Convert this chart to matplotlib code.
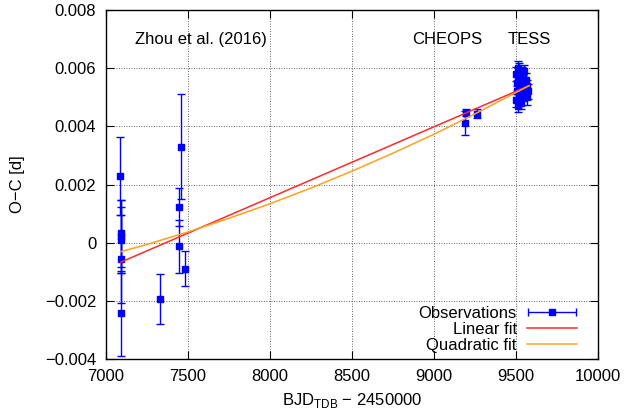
import matplotlib
matplotlib.use("Agg")
import matplotlib.pyplot as plt
from matplotlib.legend_handler import HandlerErrorbar

# transit timing residuals
zhou_x = [7088, 7092, 7090, 7090, 7091, 7093, 7457, 7445, 7445, 7482, 7329]
zhou_y = [0.00229, 0.00033, 0.00022, 0.00010, -0.00056, -0.00243,
          0.00330, 0.00122, -0.00013, -0.00090, -0.00193]
zhou_err = [0.00133, 0.00115, 0.00125, 0.00113, 0.00152, 0.00147,
            0.00180, 0.00066, 0.00092, 0.00060, 0.00085]

cheops_x = [9193, 9190, 9260]
cheops_y = [0.00446, 0.00411, 0.00443]
cheops_err = [0.00012, 0.00042, 0.00015]

tess_x = [9500, 9503, 9505, 9508, 9510, 9512, 9515, 9518, 9520, 9523, 9527,
          9530, 9533, 9537, 9540, 9545, 9550, 9555, 9560, 9565, 9570, 9575]
tess_y = [0.0058, 0.0049, 0.0055, 0.0052, 0.0060, 0.0047, 0.0056, 0.0053,
          0.0059, 0.0050, 0.0057, 0.0054, 0.0048, 0.0058, 0.0051, 0.0055,
          0.0059, 0.0053, 0.0056, 0.0050, 0.0054, 0.0052]
tess_err = [0.00025, 0.00022, 0.00028, 0.00020, 0.00025, 0.00020, 0.00030,
            0.00022, 0.00028, 0.00025, 0.00022, 0.00030, 0.00020, 0.00025,
            0.00022, 0.00028, 0.00020, 0.00025, 0.00022, 0.00028, 0.00020,
            0.00025]

# fitted ephemerides
linear_x = [7090, 9580]
linear_y = [-0.00067, 0.00540]
quad_x = [7090, 7250, 7500, 7750, 8000, 8250, 8500, 8750, 9000, 9250, 9580]
quad_y = [-0.00031, -0.00006, 0.00037, 0.00084, 0.00134, 0.00188, 0.00246,
          0.00308, 0.00373, 0.00443, 0.00540]

xticks = [7000, 7500, 8000, 8500, 9000, 9500, 10000]
yticks = [-0.004, -0.002, 0, 0.002, 0.004, 0.006, 0.008]
ytick_labels = ["\u22120.004", "\u22120.002", "0", "0.002", "0.004", "0.006", "0.008"]

plt.rcParams['font.family'] = ['Liberation Sans', 'DejaVu Sans']
plt.rcParams['font.size'] = 12

fig = plt.figure(figsize=(6.25, 4.18), dpi=100)
ax = fig.add_axes([0.1696, 0.1411, 0.7872, 0.8349])

blue = '#0000ff'
red = '#ff2a2a'
orange = '#ffa020'
all_x = zhou_x + cheops_x + tess_x
all_y = zhou_y + cheops_y + tess_y
all_err = zhou_err + cheops_err + tess_err
ax.errorbar(all_x, all_y, yerr=all_err, fmt='s', color=blue, ms=5,
            elinewidth=1, capsize=3, capthick=1, zorder=3)

ax.plot(linear_x, linear_y, color=red, lw=1.1, zorder=4)
ax.plot(quad_x, quad_y, color=orange, lw=1.1, zorder=4)

# legend proxies (gnuplot style: horizontal error bar sample)
h_obs = ax.errorbar([float('nan')], [float('nan')], xerr=[1], fmt='s', color=blue,
                    ms=5, elinewidth=1, capsize=3, capthick=1)
h_lin, = ax.plot([], [], color=red, lw=1.1)
h_quad, = ax.plot([], [], color=orange, lw=1.1)
ax.legend([h_obs, h_lin, h_quad], ['Observations', 'Linear fit', 'Quadratic fit'],
          loc='lower right', bbox_to_anchor=(0.957, 0.018),
          frameon=False, markerfirst=False, borderaxespad=0, borderpad=0,
          handlelength=3.0, handletextpad=0.6, labelspacing=0.05,
          handler_map={type(h_obs): HandlerErrorbar(xerr_size=1.45)})

ax.text(7175, 0.0070, 'Zhou et al. (2016)', va='center', ha='left')
ax.text(8868, 0.0070, 'CHEOPS', va='center', ha='left')
ax.text(9449, 0.0070, 'TESS', va='center', ha='left')

ax.set_xlim(7000, 10000)
ax.set_ylim(-0.004, 0.008)
ax.set_xticks(xticks)
ax.set_yticks(yticks)
ax.set_yticklabels(ytick_labels)
ax.tick_params(direction='in', top=True, right=True, length=6, width=0.8, pad=7)
ax.grid(True, color='#333333', linestyle=(0, (1, 2)), lw=0.6)
for s in ax.spines.values():
    s.set_linewidth(1)

ax.set_xlabel('BJD$_{\\mathregular{TDB}}$ \u2212 2450000', labelpad=5)
ax.set_ylabel('O\u2212C [d]', labelpad=14)

fig.savefig('out.png', dpi=100)
